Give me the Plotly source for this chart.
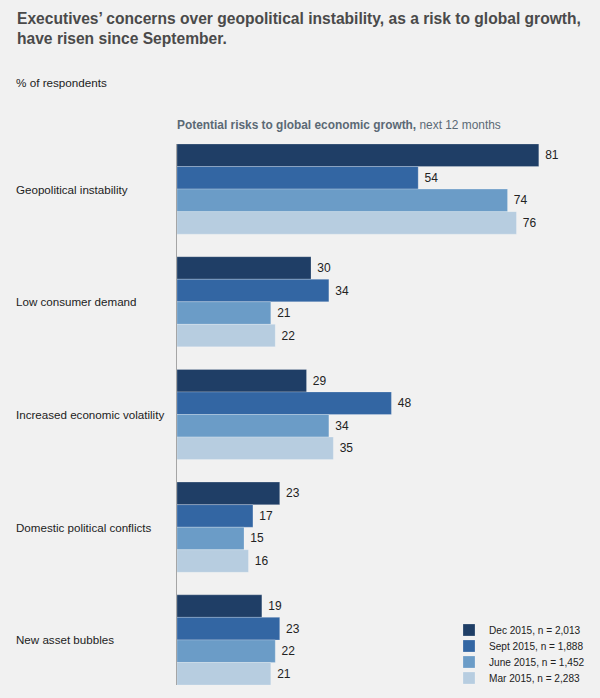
import plotly.graph_objects as go

categories = ["Geopolitical instability", "Low consumer demand", "Increased economic volatility",
              "Domestic political conflicts", "New asset bubbles"]
series_names = ["Dec 2015, n = 2,013", "Sept 2015, n = 1,888", "June 2015, n = 1,452", "Mar 2015, n = 2,283"]
dec_2015 = [81, 30, 29, 23, 19]
sept_2015 = [54, 34, 48, 17, 23]
june_2015 = [74, 21, 34, 15, 22]
mar_2015 = [76, 22, 35, 16, 21]
series_values = [dec_2015, sept_2015, june_2015, mar_2015]
colors = ["#1f3e66", "#3366a3", "#6b9cc7", "#b7cde0"]

FONT = "Liberation Sans, Arial, Helvetica, sans-serif"
BG = "#f1f1f1"

W, H = 600, 698
L, T, B, R = 177, 144, 13, 21


def px_x(px):
    return (px - L) / (W - L - R)


def px_y(py):
    return 1 - (py - T) / (H - T - B)


legend_ids = ["legend", "legend2", "legend3", "legend4"]
legend_centers = [630, 646, 662, 678]

fig = go.Figure()
for name, vals, col, lid in zip(series_names, series_values, colors, legend_ids):
    fig.add_trace(go.Bar(
        y=categories, x=vals, name=name, orientation="h", legend=lid,
        marker=dict(color=col, line=dict(color="rgba(255,255,255,0.45)", width=0.5)),
        texttemplate=" %{x}", textposition="outside",
        textfont=dict(family=FONT, size=12, color="#222222"),
        cliponaxis=False, hoverinfo="skip",
    ))

annotations = []
for cat in categories:
    annotations.append(dict(
        x=px_x(14), xref="paper", y=cat, yref="y", text=cat, showarrow=False,
        xanchor="left", yanchor="middle",
        font=dict(family=FONT, size=11.6, color="#222222"),
    ))

annotations.append(dict(
    x=px_x(15), xref="paper", y=px_y(8), yref="paper", xanchor="left", yanchor="top",
    align="left", showarrow=False,
    text="<b>Executives’ concerns over geopolitical instability, as a risk to global growth,<br>have risen since September.</b>",
    font=dict(family=FONT, size=15.6, color="#4a4a4a"),
))
annotations.append(dict(
    x=px_x(14), xref="paper", y=px_y(83), yref="paper", xanchor="left", yanchor="middle",
    showarrow=False, text="% of respondents",
    font=dict(family=FONT, size=11.7, color="#222222"),
))
annotations.append(dict(
    x=px_x(175), xref="paper", y=px_y(125), yref="paper", xanchor="left", yanchor="middle",
    showarrow=False,
    text="<b>Potential risks to global economic growth,</b> next 12 months",
    font=dict(family=FONT, size=11.9, color="#5b6975"),
))

layout_legends = {}
for lid, cy in zip(legend_ids, legend_centers):
    layout_legends[lid] = dict(
        x=px_x(449), y=px_y(cy), xanchor="left", yanchor="middle",
        bgcolor="rgba(0,0,0,0)", font=dict(family=FONT, size=10.1, color="#222222"),
        itemwidth=30, tracegroupgap=0,
    )

fig.update_layout(
    width=W, height=H, margin=dict(l=L, r=R, t=T, b=B, autoexpand=False),
    paper_bgcolor=BG, plot_bgcolor=BG,
    barmode="group", bargap=0.2, bargroupgap=0,
    annotations=annotations,
    showlegend=True,
    xaxis=dict(range=[0, 90], visible=False, fixedrange=True),
    yaxis=dict(range=[4.4, -0.4], autorange=False, showticklabels=False, showgrid=False,
               zeroline=False, showline=True, linecolor="#a5a5a5", linewidth=1, ticks=""),
    **layout_legends,
)

fig.write_html("out.html")
